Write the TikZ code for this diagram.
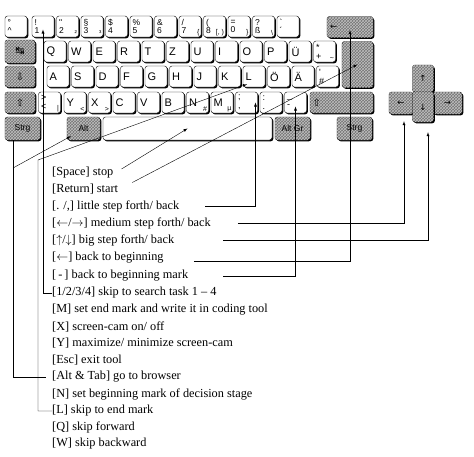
\documentclass[tikz,border=0pt]{standalone}
\usepackage{fontspec}
\setmainfont{Liberation Serif}
\newfontfamily\keyfont{Liberation Sans}
\newfontfamily\symfont{DejaVu Sans}
\usetikzlibrary{calc,shadows,patterns}

\tikzset{
  keycap/.style={draw, thin, rounded corners=2.5pt, fill=white, minimum width=22pt,
    minimum height=21pt, inner sep=0pt, font=\keyfont\fontsize{11}{11}\selectfont,
    drop shadow={shadow xshift=1.3pt, shadow yshift=-1.3pt, fill=black, opacity=1}},
  numkey/.style={keycap, text width=17pt, align=left, font=\keyfont\fontsize{8.5}{8}\selectfont},
  letterkey/.style={keycap, text width=17pt, align=left},
  modkey/.style={keycap, fill=black!55, postaction={pattern=crosshatch, pattern color=black!25},
    font=\keyfont\fontsize{8.5}{8.5}\selectfont},
  altgr/.style={anchor=south east, inner sep=1.5pt, font=\keyfont\fontsize{7}{7}\selectfont},
  legend/.style={anchor=west, inner sep=0pt, font=\fontsize{12.3}{14}\selectfont},
}

\begin{document}
\begin{tikzpicture}[x=1pt, y=-1pt, >=latex]
\useasboundingbox (0,0) rectangle (474,456);

% number row
\node[numkey] (kcirc) at (16,26.5) {°\\\textasciicircum};
\foreach \tp/\bt/\ag [count=\i from 1] in {!/1/, \textquotedbl/2/², \S/3/³, \$/4/, \%/5/, \&/6/,
    \slash/7/\{, (/8/[, )/9/], =/0/\}, ?/ß/\textbackslash, \symbol{96}/´/}
  \node[numkey, label={[altgr]south east:\ag}] (k\i) at ({43+24.5*(\i-1)},26.5) {\tp\\\bt};
\node[modkey, minimum width=46pt, text width=40pt, align=left] (kBksp) at (350,27) {\symfont ←\\[5pt]};

% qwertz row
\node[modkey, minimum width=30pt, minimum height=23pt] (kTab) at (20,51.5) {\symfont\fontsize{11}{11}\selectfont ↹};
\foreach \ch [count=\i from 0] in {Q,W,E,R,T,Z,U,I,O,P,Ü}
  \node[letterkey] (k\ch) at ({55+24.5*\i},51.5) {\ch};
\node[numkey, font=\keyfont\fontsize{9}{9}\selectfont, label={[altgr]south east:\textasciitilde}] (kPlus) at (324.5,51.5) {*\\+};
\node[modkey, minimum width=31pt, minimum height=46pt] (kReturn) at (357.5,64.5) {};

% asdf row
\node[modkey, minimum width=30pt] (kCaps) at (20,76.5) {\symfont\fontsize{10}{10}\selectfont ⇩};
\foreach \ch [count=\i from 0] in {A,S,D,F,G,H,J,K,L,Ö,Ä}
  \node[letterkey] (k\ch) at ({58+24.5*\i},76.5) {\ch};
\node[numkey, font=\keyfont\fontsize{9}{9}\selectfont] (kHash) at (327.5,76.5) {\textquotesingle\\\#};

% yxcv row
\node[modkey, minimum width=30pt] (kShiftL) at (20,102.5) {\symfont\fontsize{10}{10}\selectfont ⇧};
\node[numkey, font=\keyfont\fontsize{9}{9}\selectfont, label={[altgr]south east:|}] (kLess) at (49.5,102.5) {>\\<};
\foreach \ch/\ag [count=\i from 0] in {Y/<, X/>, C/, V/, B/, N/\#, M/µ}
  \node[letterkey, label={[altgr]south east:\ag}] (k\ch) at ({75+24.5*\i},102.5) {\ch};
\node[numkey, font=\keyfont\fontsize{9}{9}\selectfont] (kComma) at (246.5,102.5) {;\\,};
\node[numkey, font=\keyfont\fontsize{9}{9}\selectfont] (kDot) at (271,102.5) {:\\.};
\node[numkey, font=\keyfont\fontsize{9}{9}\selectfont] (kMinus) at (295.5,102.5) {\_\\-};
\node[modkey, minimum width=63pt, text width=58pt, align=left] (kShiftR) at (341.5,102.5) {\symfont\fontsize{10}{10}\selectfont ⇧};

% bottom row
\node[modkey, minimum width=35pt, minimum height=23pt] (kStrgL) at (22.5,128.5) {Strg};
\node[modkey, minimum width=33pt, minimum height=23pt] (kAlt) at (83.5,128.5) {Alt};
\node[keycap, minimum width=169pt, minimum height=23pt] (kSpace) at (187.5,128.5) {};
\node[modkey, minimum width=35pt, minimum height=23pt] (kAltGr) at (292.5,128.5) {Alt Gr};
\node[modkey, minimum width=35pt, minimum height=23pt] (kStrgR) at (354.5,128.5) {Strg};

% arrow keys
\node[modkey, minimum width=24pt, minimum height=22pt] (kLeft) at (401,103) {\symfont ←};
\node[modkey, minimum width=29pt, minimum height=22pt] (kRight) at (447.5,103) {\symfont →};
\node[modkey, minimum width=21pt, minimum height=27pt] (kUp) at (423,78.5) {\symfont ↑};
\node[modkey, minimum width=21pt, minimum height=30pt] (kDown) at (423,107) {\symfont ↓};

% legend
\node[legend] (tSpace) at (52,173) {[Space] stop};
\node[legend] (tReturn) at (52,189.5) {[Return] start};
\node[legend] (tDot) at (52,206) {[. /,] little step forth/ back};
\node[legend] (tMid) at (52,223) {[$\leftarrow$/$\rightarrow$] medium step forth/ back};
\node[legend] (tBig) at (52,240.5) {[$\uparrow$/$\downarrow$] big step forth/ back};
\node[legend] (tBack) at (52,258) {[$\leftarrow$] back to beginning};
\node[legend] (tMinus) at (52,276) {[\,-\,] back to beginning mark};
\node[legend] (t1234) at (52,293) {[1/2/3/4] skip to search task 1 -- 4};
\node[legend] (tM) at (52,310) {[M] set end mark and write it in coding tool};
\node[legend] (tX) at (52,326.5) {[X] screen-cam on/ off};
\node[legend] (tY) at (52,343) {[Y] maximize/ minimize screen-cam};
\node[legend] (tEsc) at (52,360) {[Esc] exit tool};
\node[legend] (tAlt) at (52,377) {[Alt \& Tab] go to browser};
\node[legend] (tN) at (52,394) {[N] set beginning mark of decision stage};
\node[legend] (tL) at (52,411) {[L] skip to end mark};
\node[legend] (tQ) at (52,427.5) {[Q] skip forward};
\node[legend] (tW) at (52,444) {[W] skip backward};

% connectors
\draw[->] ([xshift=8pt,yshift=4pt]tSpace.east) -- (kSpace.center);
\draw[->] ([xshift=14pt,yshift=7pt]tReturn.east) -- (kReturn.center);
\draw[->] ([xshift=26pt]tDot.east) -| ([xshift=9pt]kComma.center);
\draw[->] ([xshift=27pt]tMid.east) -| ([xshift=3pt,yshift=-7pt]kLeft.south);
\draw[->] ([xshift=49pt]tBig.east) -| ([xshift=5pt,yshift=-10pt]kDown.south);
\draw[->] ([xshift=30pt,yshift=-3pt]tBack.east) -| ([yshift=-3pt]kBksp.center);
\draw[->] ([xshift=35pt]tMinus.east) -| ([yshift=-4pt]kMinus.center);
\draw[->] (t1234.west) -| ([yshift=-3pt]k1.center);
\coordinate (bendL) at (38,160);
\draw[->] (tL.west) -| (bendL) -- ([xshift=-7pt,yshift=3pt]kL.south);
\draw ([xshift=-9.5pt]kStrgL.south) |- ([xshift=-6pt]tAlt.west);
\coordinate (jAlt) at (13,168);
\draw[->] (jAlt) -- ([xshift=4pt,yshift=4pt]kAlt.south west);

\end{tikzpicture}
\end{document}
